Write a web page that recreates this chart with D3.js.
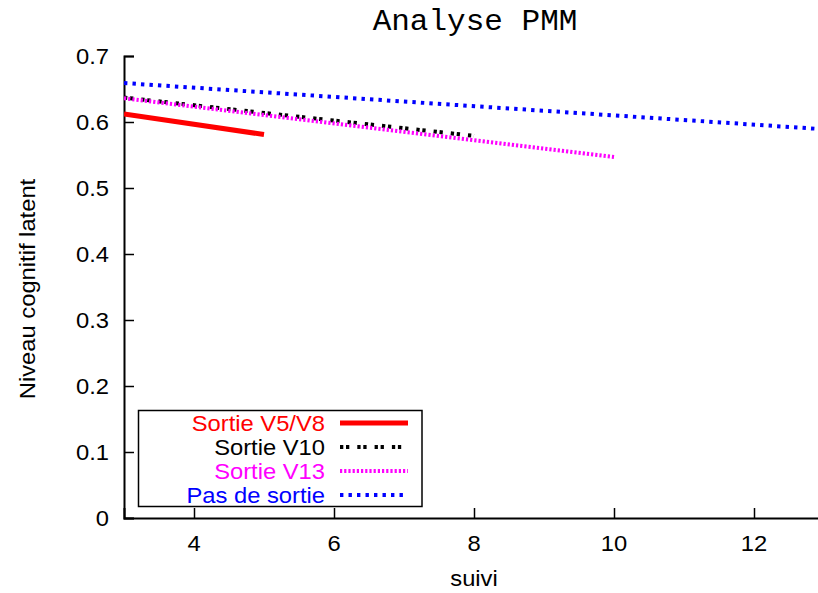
<!DOCTYPE html>
<html>
<head>
<meta charset="utf-8">
<script src="https://cdn.jsdelivr.net/npm/d3@7"></script>
<style>
  body { margin: 0; background: #fff; }
  svg { display: block; }
  text { font-family: "Liberation Sans", Arial, sans-serif; fill: #000; }
</style>
</head>
<body>
<svg id="chart"></svg>
<script>
// series values (x = suivi, y = niveau)
const seriesNames = ['Sortie V5/V8', 'Sortie V10', 'Sortie V13', 'Pas de sortie'];
const v5v8Data = [[3, 0.612], [5, 0.581]];
const v10Data = [[3, 0.637], [8, 0.579]];
const v13Data = [[3, 0.636], [10, 0.547]];
const pasDeSortieData = [[3, 0.659], [13, 0.589]];
const xTicks = [4, 6, 8, 10, 12];
const yTicks = [0, 0.1, 0.2, 0.3, 0.4, 0.5, 0.6, 0.7];

class PmmChart {
    constructor(_config) {
        this.config = {
            parentElement: _config.parentElement,
            containerWidth: _config.containerWidth || 818,
            containerHeight: _config.containerHeight || 593,
            margin: _config.margin || {top: 56, right: -6, bottom: 75, left: 124},
        }
        this.series = [
            {name: seriesNames[0], data: v5v8Data, color: '#ff0000', width: 5, dash: null},
            {name: seriesNames[1], data: v10Data, color: '#000000', width: 4, dash: '3.3,2.7,3.3,8'},
            {name: seriesNames[2], data: v13Data, color: '#ff00ff', width: 4, dash: '2.2,2'},
            {name: seriesNames[3], data: pasDeSortieData, color: '#0000ff', width: 4, dash: '3.4,5.1'},
        ];
        this.fontSize = 22;
        this.stretch = 1.08; // glyphs in the original are a bit wide
        this.initVis();
    }

    initVis() {
        let vis = this;
        vis.width = vis.config.containerWidth - vis.config.margin.left - vis.config.margin.right;
        vis.height = vis.config.containerHeight - vis.config.margin.top - vis.config.margin.bottom;

        vis.svg = d3.select(vis.config.parentElement)
            .attr('width', vis.config.containerWidth)
            .attr('height', vis.config.containerHeight);

        vis.chart = vis.svg.append('g')
            .attr('transform', `translate(${vis.config.margin.left},${vis.config.margin.top})`);

        vis.xScale = d3.scaleLinear().domain([3, 13]).range([0, vis.width]);
        vis.yScale = d3.scaleLinear().domain([0, 0.7]).range([vis.height, 0]);

        vis.renderVis();
    }

    renderVis() {
        let vis = this;
        const s = vis.stretch;
        const fs = vis.fontSize;

        vis.svg.append('clipPath').attr('id', 'plot-clip')
            .append('rect')
            .attr('x', 0).attr('y', -5)
            .attr('width', vis.width).attr('height', vis.height + 5);

        // axes, ticks pointing inwards
        const xAxis = d3.axisBottom(vis.xScale).tickValues(xTicks).tickSize(-10).tickPadding(0).tickFormat('');
        const yAxis = d3.axisLeft(vis.yScale).tickValues(yTicks).tickSize(-10).tickPadding(0).tickFormat('');

        const xG = vis.chart.append('g').attr('transform', `translate(0,${vis.height})`).call(xAxis);
        const yG = vis.chart.append('g').call(yAxis);
        [xG, yG].forEach(g => {
            g.select('.domain').attr('stroke', '#000').attr('stroke-width', 2);
            g.selectAll('.tick line').attr('stroke', '#000').attr('stroke-width', 1.5);
        });

        // tick labels
        vis.chart.selectAll('.xlab').data(xTicks).join('text')
            .attr('class', 'xlab')
            .attr('text-anchor', 'middle')
            .attr('font-size', fs)
            .attr('transform', d => `translate(${vis.xScale(d)},${vis.height + 33}) scale(${s},1)`)
            .text(d => d);

        vis.chart.selectAll('.ylab').data(yTicks).join('text')
            .attr('class', 'ylab')
            .attr('text-anchor', 'end')
            .attr('font-size', fs)
            .attr('transform', d => `translate(-15,${vis.yScale(d) + 7.5}) scale(${s},1)`)
            .text(d => d);

        // axis titles
        vis.svg.append('text')
            .attr('text-anchor', 'middle')
            .attr('font-size', fs)
            .attr('transform', `translate(474,586) scale(${s},1)`)
            .text('suivi');

        vis.svg.append('text')
            .attr('text-anchor', 'middle')
            .attr('font-size', fs)
            .attr('transform', `translate(35,289) rotate(-90) scale(${s},1)`)
            .text('Niveau cognitif latent');

        vis.svg.append('text')
            .attr('text-anchor', 'middle')
            .attr('font-size', 29)
            .style('font-family', '"Liberation Mono", "Courier New", monospace')
            .attr('transform', `translate(475,30) scale(1.07,1)`)
            .text('Analyse PMM');

        // lines
        const line = d3.line()
            .x(d => vis.xScale(d[0]))
            .y(d => vis.yScale(d[1]));

        vis.chart.append('g').attr('clip-path', 'url(#plot-clip)')
            .selectAll('path').data(vis.series).join('path')
            .attr('d', d => line(d.data))
            .attr('fill', 'none')
            .attr('stroke', d => d.color)
            .attr('stroke-width', d => d.width)
            .attr('stroke-dasharray', d => d.dash);

        // legend
        const legend = vis.svg.append('g');
        legend.append('rect')
            .attr('x', 138.5).attr('y', 410.5)
            .attr('width', 283.5).attr('height', 96)
            .attr('fill', '#fff')
            .attr('stroke', '#000').attr('stroke-width', 1.5);

        const rows = legend.selectAll('.row').data(vis.series).join('g')
            .attr('class', 'row')
            .attr('transform', (d, i) => `translate(0,${423 + i * 24})`);

        rows.append('text')
            .attr('text-anchor', 'end')
            .attr('font-size', fs)
            .attr('transform', `translate(325,7.5) scale(${s},1)`)
            .style('fill', d => d.color)
            .text(d => d.name);

        rows.append('line')
            .attr('x1', 340).attr('x2', 408)
            .attr('stroke', d => d.color)
            .attr('stroke-width', d => d.width)
            .attr('stroke-dasharray', d => d.dash);
    }
}

new PmmChart({parentElement: '#chart'});
</script>
</body>
</html>
